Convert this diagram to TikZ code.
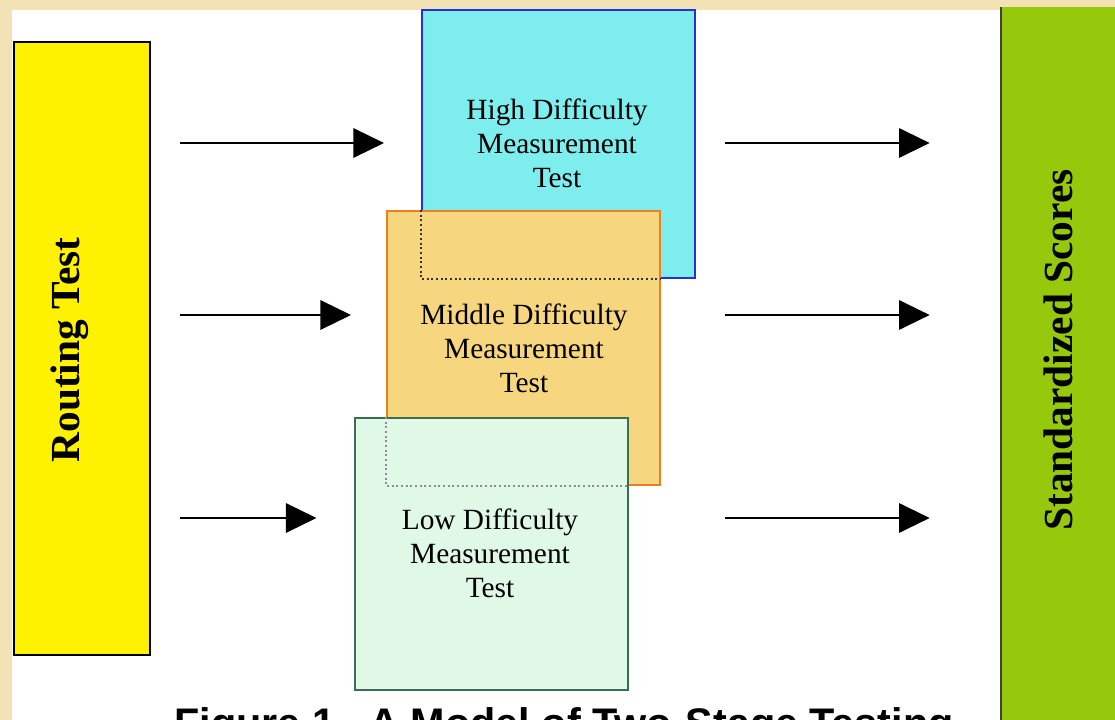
\documentclass[tikz,border=0pt]{standalone}
\usepackage{fontspec}
\setmainfont{Liberation Serif}
\newfontfamily\capfont{Liberation Sans}
\usepackage{xcolor}
\usetikzlibrary{arrows.meta}
\definecolor{parch}{HTML}{F2E2B6}
\definecolor{highfill}{HTML}{7EEDEE}
\definecolor{highline}{HTML}{2233DD}
\definecolor{midfill}{HTML}{F6D67E}
\definecolor{midline}{HTML}{EE7E22}
\definecolor{lowfill}{HTML}{E0F8E6}
\definecolor{lowline}{HTML}{3E6E52}
\definecolor{scorefill}{HTML}{96C80C}

\begin{document}
\begin{tikzpicture}[x=0.75pt, y=-0.75pt,
  every node/.style={inner sep=0pt, align=center},
  box/.style={draw, line width=1.5pt, minimum width=204.75pt, minimum height=204pt},
  boxtext/.style={font=\fontsize{22}{25.5}\selectfont},
  sidetext/.style={rotate=90, font=\bfseries\fontsize{31}{36}\selectfont},
  arr/.style={line width=1.8pt, -{Triangle[length=23pt, width=22pt]}},
  hidden/.style={dotted, line width=1.5pt}]
\clip (0,0) rectangle (1115,720);
\fill[parch] (0,0) rectangle (1115,720);
\fill[white] (12,10) rectangle (1000,720);

% side panels
\node[draw, line width=1.5pt, fill=yellow, minimum width=102pt, minimum height=459.75pt] (r) at (82,348.5) {};
\node[sidetext] (rt) at (70,350) {Routing Test};
\node[draw=black!75, line width=2pt, fill=scorefill, minimum width=105pt, minimum height=600pt] (s) at (1071,380) {};
\fill[parch] (990,0) rectangle (1115,7);
\node[sidetext] (st) at (1058,350) {Standardized Scores};

% measurement tests
\node[box, draw=highline, fill=highfill, minimum height=201pt] (h) at (558.5,144) {};
\node[boxtext] (ht) at (557,143) {High Difficulty\\Measurement\\Test};
\node[box, draw=midline, fill=midfill, minimum height=205.5pt] (m) at (523.5,348) {};
\node[boxtext] (mt) at (524,348) {Middle Difficulty\\Measurement\\Test};
\draw[hidden, black!80] (h.south west |- m.north) -- (h.south west) -- (h.south west -| m.east);
\node[box, draw=lowline, fill=lowfill] (l) at (491,554) {};
\node[boxtext] (lt) at (490,553) {Low Difficulty\\Measurement\\Test};
\draw[hidden, black!45] (m.south west |- l.north) -- (m.south west) -- (m.south west -| l.east);

% arrows
\coordinate (h1) at (180,143);
\coordinate (m1) at (180,315);
\coordinate (l1) at (180,518);
\coordinate (h2) at (725,143);
\coordinate (m2) at (725,315);
\coordinate (l2) at (725,518);
\draw[arr, shorten >=27.75pt] (h1) -- (h1 -| h.west);
\draw[arr, shorten >=26.25pt] (m1) -- (m1 -| m.west);
\draw[arr, shorten >=27.75pt] (l1) -- (l1 -| l.west);
\draw[arr, shorten >=52.5pt] (h2) -- (h2 -| s.west);
\draw[arr, shorten >=52.5pt] (m2) -- (m2 -| s.west);
\draw[arr, shorten >=52.5pt] (l2) -- (l2 -| s.west);

% caption, cut by the page edge
\node[anchor=base, font=\capfont\bfseries\fontsize{31}{36}\selectfont] (cap) at (564,737) {Figure 1.\ \ A Model of Two-Stage Testing};
\end{tikzpicture}
\end{document}
